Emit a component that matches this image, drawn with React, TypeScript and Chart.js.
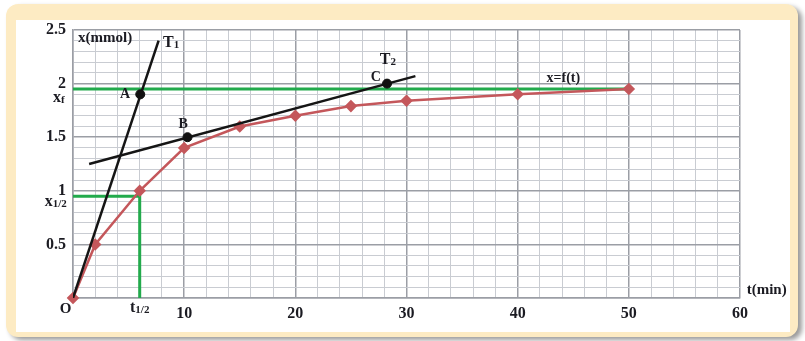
import { useEffect, useRef } from "react";
import { Chart, registerables } from "chart.js";

Chart.register(...registerables);

// ---- data ----
const times = [0, 2, 6, 10, 15, 20, 25, 30, 40, 50];
const amounts = [0, 0.5, 1.0, 1.4, 1.6, 1.7, 1.79, 1.84, 1.9, 1.95];
const xfLineT = [0, 50];
const xfLineX = [1.95, 1.95];
const halfLifeT = [0, 6, 6];
const halfLifeX = [0.95, 0.95, 0];
const tangent1T = [0, 7.7];
const tangent1X = [0, 2.4];
const tangent2T = [1.45, 30.8];
const tangent2X = [1.25, 2.07];
const markedT = [6.05, 10.3, 28.25];
const markedX = [1.9, 1.5, 2.0];
const xMajorTicks = [10, 20, 30, 40, 50, 60];
const yMajorTicks = [0.5, 1, 1.5, 2, 2.5];

// annotation texts: [text, subscript, t, x, align, size]
const annotations: [string, string, number, number, CanvasTextAlign, number][] = [
  ["x(mmol)", "", 0.45, 2.384, "left", 15],
  ["T", "1", 8.1, 2.337, "left", 16],
  ["A", "", 5.13, 1.862, "right", 14],
  ["B", "", 9.9, 1.583, "center", 14],
  ["C", "", 27.25, 2.02, "center", 14],
  ["T", "2", 27.6, 2.179, "left", 16],
  ["x=f(t)", "", 42.6, 2.011, "left", 14],
  ["t(min)", "", 60.6, 0.037, "left", 15],
  ["x", "f", -1.8, 1.825, "left", 16],
  ["x", "1/2", -2.55, 0.857, "left", 16],
  ["t", "1/2", 5.13, -0.13, "left", 16],
  ["O", "", -1.2, -0.14, "left", 15],
];

const FONT = "'Liberation Serif', 'Times New Roman', serif";
const GREEN = "#22aa4c";
const RED = "#c4575b";
const MINOR = "#c9ccd2";
const MAJOR = "#9b9ea5";

const toPts = (xs: number[], ys: number[]) => xs.map((t, i) => ({ x: t, y: ys[i] }));
const near = (v: number, list: number[]) => list.some((m) => Math.abs(m - v) < 1e-6);

const framePlugin = {
  id: "frame",
  beforeDraw(chart: any) {
    const ctx = chart.ctx as CanvasRenderingContext2D;
    ctx.save();
    ctx.shadowColor = "rgba(0,0,0,0.4)";
    ctx.shadowBlur = 5;
    ctx.shadowOffsetX = 4;
    ctx.shadowOffsetY = 3;
    ctx.fillStyle = "#fdebc3";
    ctx.beginPath();
    (ctx as any).roundRect(6, 4, 792, 333, 12);
    ctx.fill();
    ctx.restore();
    ctx.save();
    ctx.fillStyle = "#ffffff";
    ctx.fillRect(16, 20, 774, 312);
    ctx.restore();
  },
};

const labelPlugin = {
  id: "labels",
  afterDatasetsDraw(chart: any) {
    const ctx = chart.ctx as CanvasRenderingContext2D;
    const xs = chart.scales.x;
    const ys = chart.scales.y;
    ctx.save();
    ctx.fillStyle = "#1b1b22";
    ctx.textBaseline = "alphabetic";
    for (const [text, sub, t, v, align, size] of annotations) {
      const px = xs.getPixelForValue(t);
      const py = ys.getPixelForValue(v);
      ctx.font = `bold ${size}px ${FONT}`;
      const w = ctx.measureText(text).width;
      ctx.font = `bold ${Math.round(size * 0.68)}px ${FONT}`;
      const sw = sub ? ctx.measureText(sub).width : 0;
      const total = w + sw;
      let left = px;
      if (align === "right") left = px - total;
      else if (align === "center") left = px - total / 2;
      ctx.textAlign = "left";
      ctx.font = `bold ${size}px ${FONT}`;
      ctx.fillText(text, left, py);
      if (sub) {
        ctx.font = `bold ${Math.round(size * 0.68)}px ${FONT}`;
        ctx.fillText(sub, left + w, py + 1);
      }
    }
    ctx.restore();
  },
};

export default function App() {
  const ref = useRef<HTMLCanvasElement>(null);
  useEffect(() => {
    if (!ref.current) return;
    const chart = new Chart(ref.current, {
      type: "scatter",
      data: {
        datasets: [
          {
            data: toPts(markedT, markedX),
            showLine: false,
            pointRadius: 4.5,
            pointStyle: "circle",
            backgroundColor: "#111",
            borderColor: "#111",
          },
          {
            data: toPts(tangent1T, tangent1X),
            showLine: true,
            borderColor: "#151515",
            borderWidth: 2.5,
            pointRadius: 0,
          },
          {
            data: toPts(tangent2T, tangent2X),
            showLine: true,
            borderColor: "#151515",
            borderWidth: 2.5,
            pointRadius: 0,
          },
          {
            data: toPts(times, amounts),
            showLine: true,
            borderColor: RED,
            backgroundColor: RED,
            borderWidth: 2.5,
            pointStyle: "rectRot",
            pointRadius: 4.5,
            clip: false,
          },
          {
            data: toPts(xfLineT, xfLineX),
            showLine: true,
            borderColor: GREEN,
            borderWidth: 3,
            pointRadius: 0,
          },
          {
            data: toPts(halfLifeT, halfLifeX),
            showLine: true,
            borderColor: GREEN,
            borderWidth: 3,
            pointRadius: 0,
          },
        ] as any,
      },
      options: {
        animation: false,
        responsive: false,
        devicePixelRatio: 1,
        layout: { padding: { left: 0, right: 65, top: 30, bottom: 0 } },
        plugins: { legend: { display: false }, tooltip: { enabled: false } },
        scales: {
          x: {
            type: "linear",
            min: 0,
            max: 60,
            afterFit: (s: any) => {
              s.height = 43;
              s.paddingLeft = 0;
              s.paddingRight = 0;
            },
            ticks: {
              stepSize: 2,
              autoSkip: false,
              maxRotation: 0,
              padding: 6,
              color: "#1b1b22",
              font: { family: FONT, size: 16, weight: "bold" },
              callback: (v: any) => (near(Number(v), xMajorTicks) ? String(v) : ""),
            },
            grid: {
              drawTicks: false,
              lineWidth: (c: any) => (c.tick && near(c.tick.value, [0, ...xMajorTicks]) ? 1.5 : 1),
              color: (c: any) => (c.tick && near(c.tick.value, [0, ...xMajorTicks]) ? MAJOR : MINOR),
            },
            border: { color: MAJOR, width: 1.5 },
          },
          y: {
            type: "linear",
            min: 0,
            max: 2.5,
            afterFit: (s: any) => {
              s.width = 73;
              s.paddingTop = 0;
              s.paddingBottom = 0;
            },
            ticks: {
              stepSize: 0.1,
              autoSkip: false,
              padding: 7,
              color: "#1b1b22",
              font: { family: FONT, size: 16, weight: "bold" },
              callback: (v: any) => {
                const n = Number(v);
                return near(n, yMajorTicks) ? String(Math.round(n * 10) / 10) : "";
              },
            },
            grid: {
              drawTicks: false,
              lineWidth: (c: any) => (c.tick && near(c.tick.value, [0, ...yMajorTicks]) ? 1.5 : 1),
              color: (c: any) => (c.tick && near(c.tick.value, [0, ...yMajorTicks]) ? MAJOR : MINOR),
            },
            border: { color: MAJOR, width: 1.5 },
          },
        },
      } as any,
      plugins: [framePlugin, labelPlugin],
    });
    return () => chart.destroy();
  }, []);
  return (
    <div style={{ position: "absolute", left: 0, top: 0, width: 805, height: 341 }}>
      <canvas ref={ref} width={805} height={341} />
    </div>
  );
}
